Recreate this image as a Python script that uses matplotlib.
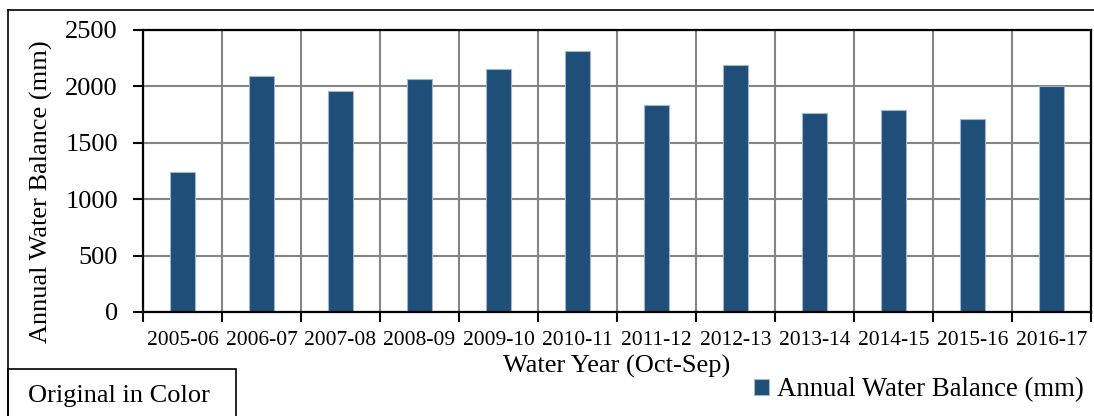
import matplotlib.pyplot as plt
import numpy as np
from matplotlib.patches import Rectangle
from matplotlib.lines import Line2D

# Water years and annual balance values (mm)
years = ["2005-06", "2006-07", "2007-08", "2008-09", "2009-10", "2010-11",
         "2011-12", "2012-13", "2013-14", "2014-15", "2015-16", "2016-17"]
balance = [1237, 2089, 1962, 2065, 2154, 2314, 1835, 2186, 1760, 1787, 1707, 2000]

plt.rcParams['font.family'] = ['Liberation Serif', 'DejaVu Serif']

W, H = 1094, 416
fig = plt.figure(figsize=(W / 100, H / 100), dpi=100)
ax = fig.add_axes([143 / W, 1 - 312 / H, (1091 - 143) / W, (312 - 30) / H])

x = np.arange(len(years))
ax.bar(x, balance, width=0.31, color='#1f4e79', edgecolor='#9fb6cc', linewidth=0.8,
       zorder=3, label='Annual Water Balance (mm)')

ax.set_xlim(-0.5, len(years) - 0.5)
ax.set_ylim(0, 2500)
ax.set_yticks(range(0, 2501, 500))
ax.set_xticks(x)
ax.set_xticklabels(years, fontsize=15.5)
ax.set_xticks(np.arange(-0.5, len(years), 1), minor=True)
ax.tick_params(axis='x', which='major', length=0, pad=14)
ax.tick_params(axis='x', which='minor', length=7, width=1.5, direction='out', color='black')
ax.tick_params(axis='y', labelsize=19, length=7, width=1.5, pad=11)

ax.grid(True, axis='y', color='#858585', linewidth=1.5, zorder=0)
ax.grid(True, axis='x', which='minor', color='#858585', linewidth=1.5, zorder=0)
ax.grid(False, axis='x', which='major')
for s in ax.spines.values():
    s.set_color('black')
    s.set_linewidth(1.6)
    s.set_zorder(4)

# axis titles placed where they sit in the original
fig.text(617 / W, 1 - 373 / H, 'Water Year (Oct-Sep)', fontsize=19,
         ha='center', va='baseline')
fig.text(41 / W, 1 - 192 / H, 'Annual Water Balance (mm)', fontsize=19,
         ha='center', va='center', rotation=90)

ax.legend(loc='center left', bbox_to_anchor=(741 / W, 1 - 390 / H),
          bbox_transform=fig.transFigure, frameon=False, fontsize=19.3,
          handlelength=0.55, handleheight=0.55, handletextpad=0.3, borderpad=0)

# outer frame and the note box
fig.add_artist(Line2D([8 / W, 1.0], [1 - 10 / H] * 2, color='black', linewidth=1.2))
fig.add_artist(Line2D([8 / W] * 2, [0, 1 - 10 / H], color='black', linewidth=1.2))
fig.add_artist(Rectangle((8 / W, -0.01), (236 - 8) / W, (H - 369) / H + 0.01,
                         transform=fig.transFigure, fill=False, edgecolor='black', linewidth=1.2))
fig.text(28 / W, 1 - 396 / H, 'Original in Color', fontsize=19, va='center', ha='left')

fig.savefig('out.png', dpi=100)
